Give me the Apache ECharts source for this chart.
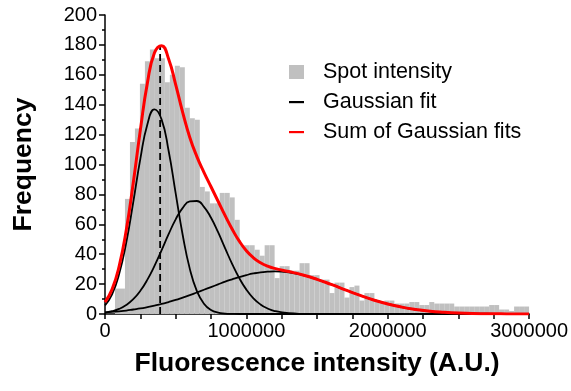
<!DOCTYPE html>
<html>
<head>
<meta charset="utf-8">
<title>Spot intensity histogram</title>
<script src="https://cdn.jsdelivr.net/npm/echarts@6/dist/echarts.min.js"></script>
<style>
html, body { margin: 0; padding: 0; background: #fff; }
#chart { width: 571px; height: 391px; }
</style>
</head>
<body>
<div id="chart"></div>
<script>
// histogram: bin width and counts per bin (bins start at 0)
var binWidth = 35294;
var counts = [0, 0, 17, 17, 77, 115, 124, 154, 169, 177,
	171, 171, 155, 160, 166, 165, 138, 131, 130, 85,
	82, 74, 74, 81, 81, 78, 63, 46, 46, 46,
	43, 39, 46, 46, 24, 32, 32, 29, 29, 34,
	34, 26, 26, 23, 23, 14, 21, 21, 11, 18,
	19, 9, 14, 14, 8, 8, 9, 9, 7, 7,
	7, 8, 8, 6, 6, 8, 7, 7, 7, 7,
	5, 5, 5, 5, 5, 5, 5, 6, 6, 3,
	3, 2, 5, 5, 5];

// fitted curves
var curveX = [0, 50000, 100000, 150000, 200000, 250000, 300000, 350000, 400000, 450000,
	500000, 550000, 600000, 650000, 700000, 750000, 800000, 850000, 900000, 950000,
	1000000, 1050000, 1100000, 1150000, 1200000, 1300000, 1400000, 1500000, 1600000, 1700000,
	1800000, 1900000, 2000000, 2100000, 2200000, 2300000, 2400000, 2500000, 2600000, 2700000,
	2800000, 2900000, 3000000];
var fit1 = [5.8, 13.2, 26.7, 47.6, 74.9, 103.8, 127.0, 136.9, 130.2, 109.2,
	80.7, 52.7, 30.2, 15.3, 6.9, 2.7, 0.9, 0.3, 0.1, 0,
	0, 0, 0, 0, 0, 0, 0, 0, 0, 0,
	0, 0, 0, 0, 0, 0, 0, 0, 0, 0,
	0, 0, 0];
var fit2 = [0.95, 1.85, 3.4, 6.0, 9.9, 15.5, 23.0, 32.2, 42.6, 53.4,
	63.3, 71.0, 75.3, 75.6, 71.7, 64.4, 54.7, 43.9, 33.4, 24.0,
	16.3, 10.5, 6.4, 3.7, 2.0, 0.5, 0.1, 0, 0, 0,
	0, 0, 0, 0, 0, 0, 0, 0, 0, 0,
	0, 0, 0];
var fit3 = [1.1, 1.4, 1.8, 2.3, 3.0, 3.7, 4.6, 5.6, 6.7, 8.0,
	9.4, 11.0, 12.6, 14.4, 16.2, 18.0, 19.8, 21.6, 23.2, 24.7,
	26.0, 27.1, 27.9, 28.3, 28.5, 27.9, 26.0, 23.2, 19.8, 16.2,
	12.6, 9.4, 6.7, 4.6, 3.0, 1.8, 1.1, 0.6, 0.3, 0.2,
	0.1, 0, 0];
var fitSum = [7.9, 16.5, 31.9, 55.9, 87.8, 123.0, 154.6, 174.7, 179.5, 170.6,
	153.4, 134.7, 118.1, 105.3, 94.8, 85.1, 75.4, 65.8, 56.7, 48.7,
	42.3, 37.6, 34.3, 32.0, 30.5, 28.4, 26.1, 23.2, 19.8, 16.2,
	12.6, 9.4, 6.7, 4.6, 3.0, 1.8, 1.1, 0.6, 0.3, 0.2,
	0.1, 0, 0];

// dashed marker at the peak
var peakX = 390000;
var peakTop = 180;

var font = 'Liberation Sans, Arial, Helvetica, sans-serif';
// short horizontal bar inside a 15x14 box, used as legend icon for the curves
var lineIcon = 'path://M0,0M0,6L15,6L15,8.2L0,8.2ZM15,14';

function pairs(xs, ys)
{
	var out = [];
	for (var i = 0; i < xs.length; ++i)
		out.push([xs[i], ys[i]]);
	return out;
}

var bins = [];
for (var i = 0; i < counts.length; ++i)
	bins.push([i * binWidth, (i + 1) * binWidth, counts[i]]);

function renderBin(params, api)
{
	var top = api.coord([api.value(0), api.value(2)]);
	var bottom = api.coord([api.value(1), 0]);
	return {
		type: 'rect',
		shape: { x: top[0], y: top[1], width: bottom[0] - top[0], height: bottom[1] - top[1] },
		style: { fill: '#c0c0c0' }
	};
}

var blackLine = { color: '#000', width: 1.8 };

var option = {
	animation: false,
	textStyle: { fontFamily: font, color: '#000' },
	grid: { left: 105, right: 41, top: 15, bottom: 77 },
	legend: {
		orient: 'vertical',
		left: 284,
		top: 56,
		itemWidth: 15,
		itemHeight: 14,
		itemGap: 8,
		textStyle: { fontSize: 21.5, color: '#000', fontFamily: font, lineHeight: 21.5, padding: [0, 0, 0, 14] },
		data: [
			{ name: 'Spot intensity', icon: 'rect' },
			{ name: 'Gaussian fit', icon: lineIcon },
			{ name: 'Sum of Gaussian fits', icon: lineIcon }
		]
	},
	xAxis: {
		type: 'value',
		min: 0,
		max: 3000000,
		interval: 1000000,
		name: 'Fluorescence intensity (A.U.)',
		nameLocation: 'middle',
		nameGap: 36,
		nameTextStyle: { fontSize: 26.5, fontWeight: 'bold', color: '#000', fontFamily: font },
		axisLine: { lineStyle: { color: '#000', width: 1.5 } },
		axisTick: { length: 5, lineStyle: { color: '#000', width: 1.5 } },
		minorTick: { show: true, splitNumber: 4, length: 5, lineStyle: { color: '#000', width: 1.5 } },
		axisLabel: { fontSize: 20, color: '#000', margin: 7, fontFamily: font, formatter: function (v) { return String(v); } },
		splitLine: { show: false }
	},
	yAxis: {
		type: 'value',
		min: 0,
		max: 200,
		interval: 20,
		name: 'Frequency',
		nameLocation: 'middle',
		nameGap: 68,
		nameTextStyle: { fontSize: 26.5, fontWeight: 'bold', color: '#000', fontFamily: font },
		axisLine: { show: true, lineStyle: { color: '#000', width: 1.5 } },
		axisTick: { show: true, length: 6, lineStyle: { color: '#000', width: 1.5 } },
		minorTick: { show: true, splitNumber: 2, length: 3, lineStyle: { color: '#000', width: 1.5 } },
		axisLabel: { fontSize: 20, color: '#000', margin: 8, fontFamily: font },
		splitLine: { show: false }
	},
	series: [
		{
			name: 'Spot intensity',
			type: 'custom',
			renderItem: renderBin,
			itemStyle: { color: '#c0c0c0' },
			encode: { x: [0, 1], y: 2 },
			data: bins
		},
		{
			name: 'Gaussian fit', type: 'line', smooth: true, symbol: 'none',
			itemStyle: { color: '#000' }, lineStyle: blackLine,
			data: pairs(curveX, fit1)
		},
		{
			name: 'Gaussian fit', type: 'line', smooth: true, symbol: 'none',
			itemStyle: { color: '#000' }, lineStyle: blackLine,
			data: pairs(curveX, fit2)
		},
		{
			name: 'Gaussian fit', type: 'line', smooth: true, symbol: 'none',
			itemStyle: { color: '#000' }, lineStyle: blackLine,
			data: pairs(curveX, fit3)
		},
		{
			name: 'peak', type: 'line', symbol: 'none',
			lineStyle: { color: '#000', width: 1.8, type: [7, 4] },
			data: [[peakX, 0], [peakX, peakTop]]
		},
		{
			name: 'Sum of Gaussian fits', type: 'line', smooth: true, symbol: 'none',
			itemStyle: { color: '#ff0000' }, lineStyle: { color: '#ff0000', width: 3 },
			data: pairs(curveX, fitSum)
		}
	]
};

var chart = echarts.init(document.getElementById('chart'));
chart.setOption(option);
</script>
</body>
</html>
